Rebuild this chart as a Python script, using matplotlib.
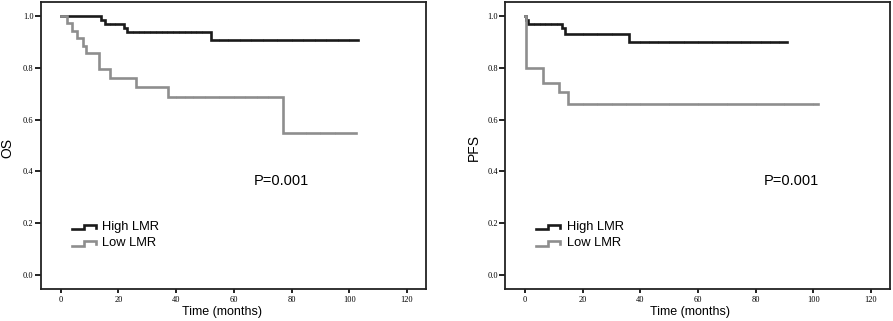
import numpy as np
import matplotlib
matplotlib.use("Agg")
import matplotlib.pyplot as plt

# ---- data ----
os_high_t = [0, 14, 15.5, 22, 23, 52]
os_high_s = [1.0, 0.985, 0.969, 0.954, 0.938, 0.906]
os_high_end = 103
os_high_cens = [17, 19, 25, 27, 29, 31, 33, 35, 37, 39, 41, 43, 45, 47, 49,
                55, 58, 62, 66, 70, 75, 80, 84, 88, 92, 96, 100]

os_low_t = [0, 2.2, 3.9, 5.7, 7.7, 8.8, 13.2, 17, 26.1, 37.1, 77]
os_low_s = [1.0, 0.971, 0.943, 0.914, 0.886, 0.857, 0.796, 0.762, 0.727, 0.688, 0.549]
os_low_end = 102.4
os_low_cens = [40, 43, 46, 50, 55, 60, 64, 68, 72, 85, 90, 95]

pfs_high_t = [0, 0.3, 1.0, 12.9, 13.9, 35.9]
pfs_high_s = [1.0, 0.985, 0.969, 0.954, 0.932, 0.900]
pfs_high_end = 90.7
pfs_high_cens = [3, 5, 7, 9, 11, 20, 25, 30, 40, 43, 46, 50, 55, 60, 65, 70,
                 75, 78, 82, 85, 88]

pfs_low_t = [0, 0.2, 6.1, 11.9, 14.9]
pfs_low_s = [1.0, 0.80, 0.742, 0.706, 0.662]
pfs_low_end = 101.7
pfs_low_cens = [20, 25, 30, 35, 40, 50, 60, 70, 80, 90, 100]

group_labels = ["High LMR", "Low LMR"]
ylabels = ["OS", "PFS"]
p_text = "P=0.001"
xticks = [0, 20, 40, 60, 80, 100, 120]
yticks = [0.0, 0.2, 0.4, 0.6, 0.8, 1.0]

BLACK = "#1a1a1a"
GRAY = "#8e8e8e"

fig = plt.figure(figsize=(8.93, 3.21), dpi=100)
axes = [fig.add_axes([0.0456, 0.0988, 0.4315, 0.895]),
        fig.add_axes([0.5658, 0.0988, 0.4308, 0.895])]

panels = [
    ((os_high_t, os_high_s, os_high_end, os_high_cens),
     (os_low_t, os_low_s, os_low_end, os_low_cens), 76.5),
    ((pfs_high_t, pfs_high_s, pfs_high_end, pfs_high_cens),
     (pfs_low_t, pfs_low_s, pfs_low_end, pfs_low_cens), 92.5),
]


def draw_curve(ax, t, s, end, cens, color, z):
    tt = list(t) + [end]
    ss = list(s) + [s[-1]]
    ax.step(tt, ss, where="post", color=color, lw=1.9, zorder=z,
            solid_joinstyle="miter")
    idx = np.searchsorted(np.array(t), np.array(cens), side="right") - 1
    cs = np.array(s)[idx]
    ax.plot(cens, cs, linestyle="none", marker="|", markersize=2.0,
            mew=0.5, color=color, alpha=0.8, zorder=z)


for k, ax in enumerate(axes):
    high, low, px = panels[k]
    draw_curve(ax, *high, BLACK, 3)
    draw_curve(ax, *low, GRAY, 4)

    ax.set_xlim(-6.9, 126.6)
    ax.set_ylim(-0.055, 1.054)
    ax.set_xticks(xticks)
    ax.set_yticks(yticks)
    ax.set_xticklabels([str(v) for v in xticks], family="Liberation Serif",
                       fontsize=6)
    ax.set_yticklabels(["%.1f" % v for v in yticks], family="Liberation Serif",
                       fontsize=6)
    ax.tick_params(axis="y", direction="out", length=4, width=1.3, pad=1.2,
                   color="#111111")
    ax.tick_params(axis="x", direction="out", length=3, width=1.3, pad=1.5,
                   color="#111111")
    for sp in ax.spines.values():
        sp.set_linewidth(1.3)
        sp.set_color("#222222")

    ax.set_xlabel("Time (months)", family="Liberation Sans", fontsize=9)
    ax.xaxis.label.set_va("center")
    ax.xaxis.set_label_coords(0.4705 if k == 0 else 0.48, -0.079)
    ax.set_ylabel(ylabels[k], family="Liberation Sans", fontsize=10)
    ax.yaxis.label.set_va("center")
    ax.yaxis.set_label_coords(-0.0875 if k == 0 else -0.081, 0.492)

    ax.text(px, 0.363, p_text, family="Liberation Sans", fontsize=10.5,
            ha="center", va="center")

    # legend with step-shaped symbols
    for j, (lab, col) in enumerate(zip(group_labels, [BLACK, GRAY])):
        yc = 0.184 - j * 0.062
        x0, xm, x1 = 3.9, 8.0, 12.2
        ax.plot([x0, xm, xm, x1, x1], [yc - 0.008, yc - 0.008, yc + 0.008,
                                       yc + 0.008, yc - 0.002],
                color=col, lw=1.9, solid_joinstyle="miter")
        ax.text(14.4, yc, lab, family="Liberation Sans", fontsize=9.3,
                ha="left", va="center")

fig.savefig("out.png", dpi=100)
